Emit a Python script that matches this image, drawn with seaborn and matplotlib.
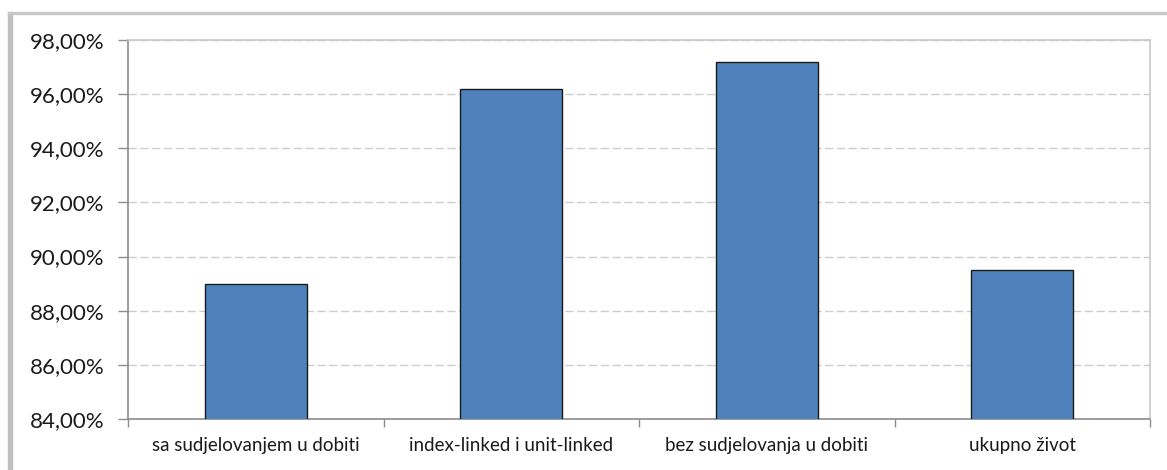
import matplotlib
matplotlib.use("Agg")
import matplotlib.pyplot as plt
import seaborn as sns
import pandas as pd
from matplotlib.ticker import FuncFormatter, MultipleLocator
from matplotlib.patches import Rectangle

categories = ["sa sudjelovanjem u dobiti", "index-linked i unit-linked",
              "bez sudjelovanja u dobiti", "ukupno život"]
values = [89.0, 96.2, 97.2, 89.5]

sns.set_theme(style="white")
plt.rcParams['font.family'] = ['Lato', 'DejaVu Sans']

df = pd.DataFrame({"cat": categories, "val": values})

fig = plt.figure(figsize=(11.67, 4.70), dpi=100)
ax = fig.add_axes([128/1167, 1-419/470, (1150-128)/1167, (419-40)/470])

sns.barplot(data=df, x="cat", y="val", color="#4F81BD", saturation=1,
            width=0.4, edgecolor="#1a1a1a", linewidth=1.0, ax=ax, zorder=3)

ax.set_ylim(84, 98)
ax.set_xlim(-0.5, 3.5)
ax.yaxis.set_major_locator(MultipleLocator(2))
ax.yaxis.set_major_formatter(FuncFormatter(lambda v, p: f"{v:.2f}".replace(".", ",") + "%"))
ax.grid(axis="y", color="#cccccc", linestyle=(0, (6, 2.5)), linewidth=1.0, zorder=0)
ax.set_xlabel("")
ax.set_ylabel("")

for s in ["top", "right"]:
    ax.spines[s].set_color("#c8c8c8")
    ax.spines[s].set_linewidth(1.2)
for s in ["left", "bottom"]:
    ax.spines[s].set_color("#8c8c8c")
    ax.spines[s].set_linewidth(1.2)

ax.tick_params(axis="y", which="major", length=7, width=1, color="#8c8c8c",
               labelsize=16, labelcolor="#1a1a1a", pad=10, left=True)
ax.set_xticks([0, 1, 2, 3])
ax.set_xticklabels(categories)
ax.tick_params(axis="x", which="major", length=0, labelsize=13.5,
               labelcolor="#1a1a1a", pad=13)
ax.set_xticks([-0.5, 0.5, 1.5, 2.5, 3.5], minor=True)
ax.tick_params(axis="x", which="minor", length=6, width=1, color="#8c8c8c",
               bottom=True)

# outer frame (left thick + top)
fig.patches.append(Rectangle((8/1167, 0), 4/1167, 1-12/470, transform=fig.transFigure,
                             color="#bfbfbf", zorder=0))
fig.patches.append(Rectangle((8/1167, 1-14/470), 1, 2/470, transform=fig.transFigure,
                             color="#c8c8c8", zorder=0))

fig.savefig("out.png", dpi=100)
